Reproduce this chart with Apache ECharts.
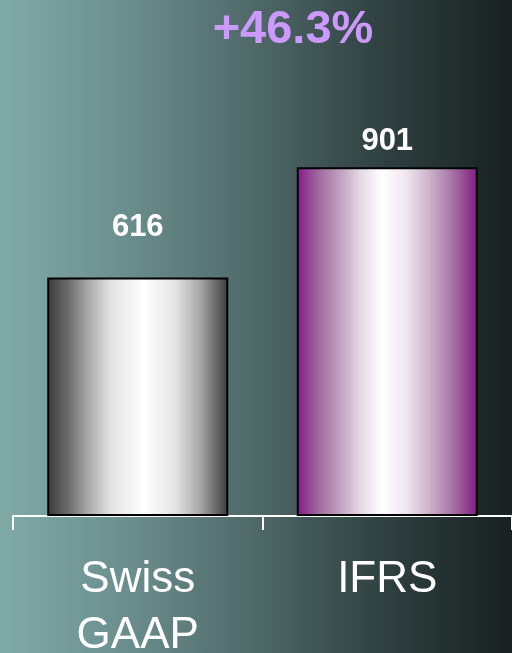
<!DOCTYPE html>
<html>
<head>
<meta charset="utf-8">
<style>
  html, body { margin: 0; padding: 0; background: #1a2222; }
  #chart { width: 512px; height: 653px; }
</style>
<script src="https://cdn.jsdelivr.net/npm/echarts@6/dist/echarts.min.js"></script>
</head>
<body>
<div id="chart"></div>
<script>
// Operating result under the two accounting standards
const categories = ['Swiss\nGAAP', 'IFRS'];
const values = [616, 901];
const growthLabel = '+46.3%';

const FONT = '"Liberation Sans", Arial, Helvetica, sans-serif';

// cylinder-like horizontal shading for each bar
function shade(stops) {
  return {
    type: 'linear', x: 0, y: 0, x2: 1, y2: 0,
    colorStops: stops.map(s => ({ offset: s[0], color: s[1] }))
  };
}
const barFills = [
  shade([
    [0, '#3a3a3a'], [0.12, '#6e6e6e'], [0.24, '#b0b0b0'], [0.35, '#e2e2e2'],
    [0.53, '#ffffff'], [0.7, '#e6e6e6'], [0.84, '#aaaaaa'], [0.95, '#5e5e5e'], [1, '#3a3a3a']
  ]),
  shade([
    [0, '#86188a'], [0.12, '#a06a9e'], [0.25, '#c4a6c2'], [0.35, '#e6d8e6'],
    [0.47, '#ffffff'], [0.6, '#f0e8f0'], [0.72, '#d0b8ce'], [0.85, '#a87aa6'], [0.95, '#8e3a8e'], [1, '#86188a']
  ])
];
const labelGaps = [35, 10];

const chart = echarts.init(document.getElementById('chart'), null, { renderer: 'canvas' });

chart.setOption({
  animation: false,
  backgroundColor: {
    type: 'linear', x: 0, y: 0, x2: 1, y2: 0,
    colorStops: [
      { offset: 0, color: '#80aaa8' },
      { offset: 0.25, color: '#6a8e8d' },
      { offset: 0.5, color: '#4f6868' },
      { offset: 0.75, color: '#2f4040' },
      { offset: 1, color: '#182020' }
    ]
  },
  grid: { left: 13, right: 0, top: 129, bottom: 137, containLabel: false, outerBoundsMode: 'none' },
  xAxis: {
    type: 'category',
    data: categories,
    boundaryGap: true,
    axisLine: { show: true, lineStyle: { color: '#ffffff', width: 2 } },
    axisTick: { show: true, length: 14, lineStyle: { color: '#ffffff', width: 2 } },
    axisLabel: {
      color: '#ffffff',
      fontFamily: FONT,
      fontSize: 44,
      lineHeight: 56,
      margin: 36,
      interval: 0
    }
  },
  yAxis: {
    type: 'value',
    min: 0,
    max: 1000,
    show: false,
    splitLine: { show: false }
  },
  graphic: [{
    type: 'text',
    x: 293,
    y: 30,
    style: {
      text: growthLabel,
      fill: '#cc99ff',
      font: 'bold 47px ' + FONT,
      textAlign: 'center',
      textVerticalAlign: 'middle'
    }
  }],
  series: [{
    type: 'bar',
    barWidth: 181,
    data: values.map((v, i) => ({
      value: v,
      itemStyle: { color: barFills[i] },
      label: { distance: labelGaps[i] }
    })),
    itemStyle: { borderColor: '#000000', borderWidth: 2 },
    label: {
      show: true,
      position: 'top',
      color: '#ffffff',
      fontFamily: FONT,
      fontWeight: 'bold',
      fontSize: 31
    }
  }]
});
</script>
</body>
</html>
